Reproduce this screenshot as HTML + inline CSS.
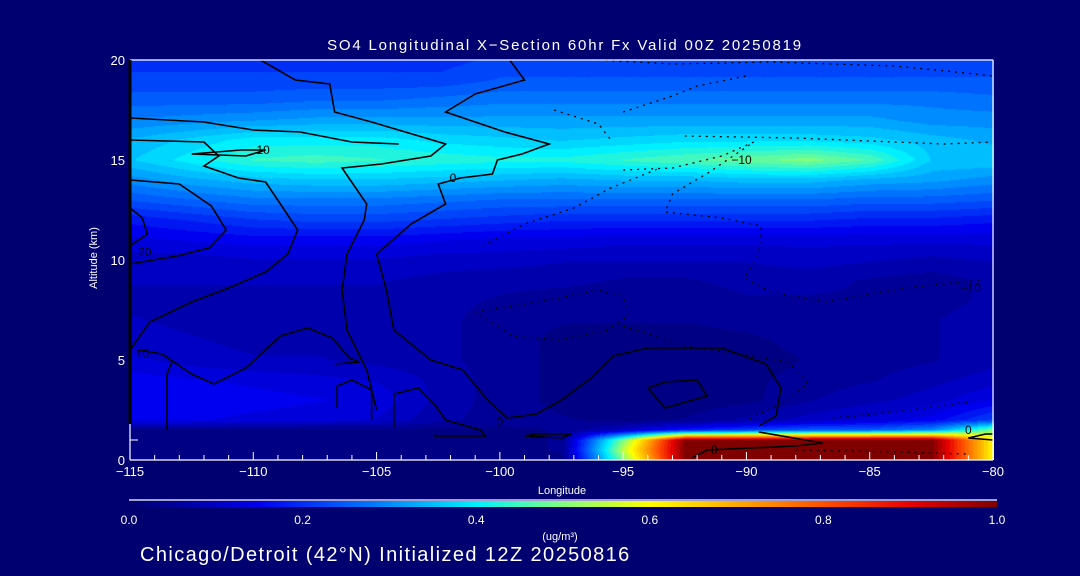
<!DOCTYPE html>
<html><head><meta charset="utf-8"><style>
html,body{margin:0;padding:0;background:#000070;width:1080px;height:576px;overflow:hidden}
#wrap{position:relative;width:1080px;height:576px;font-family:"Liberation Sans",sans-serif;color:#fff}
canvas{position:absolute;left:130px;top:60px}
svg{position:absolute;left:0;top:0}
</style></head><body>
<div id="wrap">
<canvas id="cv" width="864" height="400"></canvas>
<svg id="sv" width="1080" height="576"></svg>
</div>
<script>
const lons=[-115,-112.5,-110,-107.5,-105,-102.5,-100,-97.5,-95,-92.5,-90,-87.5,-85,-82.5,-80];
const alts=[0,0.5,1,1.5,2,3,4,5,6,7,8,9,10,11,12,13,14,15,16,17,18,19,20];
const so4=[
[.02,.02,.02,.02,.02,.02,.02,.03,.50,1,1,1,1,1,.6],
[.02,.02,.02,.02,.02,.02,.03,.04,.55,1,1,1,1,1,.6],
[.02,.02,.02,.02,.02,.02,.03,.04,.50,1,1,1,1,1,.6],
[.03,.03,.03,.03,.03,.03,.03,.04,.10,.18,.22,.25,.25,.30,.5],
[.14,.14,.13,.12,.11,.07,.05,.04,.03,.04,.07,.10,.12,.15,.22],
[.16,.16,.15,.14,.13,.08,.05,.03,.02,.02,.03,.06,.08,.10,.14],
[.15,.14,.13,.12,.11,.08,.05,.03,.02,.02,.03,.05,.06,.08,.10],
[.12,.10,.09,.09,.08,.07,.05,.03,.02,.02,.02,.04,.05,.06,.08],
[.10,.09,.08,.08,.08,.07,.05,.03,.02,.02,.03,.05,.05,.06,.08],
[.09,.08,.08,.08,.08,.07,.05,.04,.04,.04,.05,.06,.06,.06,.08],
[.08,.08,.08,.08,.08,.07,.06,.05,.05,.05,.06,.06,.06,.05,.07],
[.09,.09,.09,.09,.09,.08,.07,.07,.06,.06,.07,.07,.06,.05,.07],
[.10,.10,.11,.11,.11,.10,.10,.09,.09,.09,.09,.10,.09,.08,.09],
[.13,.14,.15,.15,.15,.14,.13,.13,.12,.12,.12,.12,.12,.12,.12],
[.17,.19,.21,.22,.22,.21,.20,.19,.19,.19,.19,.19,.18,.18,.17],
[.24,.26,.28,.28,.28,.27,.26,.26,.26,.26,.26,.26,.25,.25,.24],
[.30,.33,.35,.36,.36,.35,.34,.33,.34,.34,.35,.35,.33,.32,.30],
[.36,.40,.44,.45,.44,.43,.42,.42,.44,.46,.48,.50,.46,.36,.36],
[.34,.37,.40,.40,.40,.38,.37,.36,.37,.38,.38,.38,.37,.35,.33],
[.29,.30,.31,.32,.32,.32,.32,.32,.32,.32,.32,.32,.32,.30,.30],
[.25,.25,.25,.26,.26,.27,.28,.28,.28,.28,.28,.28,.28,.28,.27],
[.22,.22,.22,.22,.22,.22,.24,.24,.24,.24,.24,.24,.24,.24,.24],
[.20,.20,.20,.20,.20,.20,.22,.22,.22,.22,.22,.22,.22,.22,.22]];
const xTicks=[-115,-110,-105,-100,-95,-90,-85,-80];
const yTicks=[0,5,10,15,20];
const cbTicks=[0,0.2,0.4,0.6,0.8,1.0];
const solidLines=[
[[-109.7,20],[-108.3,19],[-106.9,18.8],[-106.7,17.4],[-105.2,16.9],[-102.2,15.8],[-102.8,15.2],[-104.8,14.8],[-106.4,14.6],[-105.4,12.8],[-105.5,12],[-106.2,10.3],[-106.4,8.5],[-106.2,6.5],[-105.4,4.5],[-105,2.5]],
[[-99.6,20],[-99,19],[-101,18.3],[-102.2,17.4],[-99.8,16.4],[-98,15.8],[-99.1,15.3],[-100.1,15],[-100.3,14.3],[-101.6,14.1],[-102.5,13.8],[-102.2,12.8],[-103.6,11.8],[-105,10.3],[-104.6,8.5],[-104.3,6.5],[-102.8,5],[-101.5,4.5],[-100.5,3],[-99.7,2.1],[-98.5,2.3],[-97.5,3],[-96.3,4.1],[-95.4,5.2],[-94,5.6],[-91,5.6],[-89.2,4.8],[-88.6,3.6],[-88.8,2.2],[-89.5,1.7]],
[[-115,17.1],[-112,16.9],[-110,16.5],[-108.1,16.4],[-106,15.9],[-104.1,15.8]],
[[-115,16],[-112,15.9],[-111.4,15.2],[-112,14.7],[-110.6,14.1],[-109.5,13.9],[-108.9,12.8],[-108.2,11.5],[-108.6,10.3],[-109.5,9.4],[-111,8.6],[-112.5,7.9],[-114.2,6.9],[-115,5.5]],
[[-115,14],[-113,13.8],[-111.7,12.7],[-111.1,11.5],[-111.8,10.6],[-113.1,10.2],[-115,9.8]],
[[-115,12.6],[-114.5,12.1],[-114.3,11.3],[-115,10.7]],
[[-112.5,15.3],[-110.5,15.5],[-109.5,15.5],[-110.3,15.2],[-112.5,15.3]],
[[-114.6,5.5],[-113.7,5.3],[-112.5,4.3],[-111.6,3.8],[-110.3,4.6],[-108.9,6.2],[-107.8,6.6],[-106.8,6.1],[-106.1,5.1],[-105.7,4.9],[-106.7,4.8]],
[[-113.5,1.5],[-113.5,4.3],[-113.3,4.9]],
[[-106.6,2.6],[-106.6,3.7],[-106,4],[-105.2,3.5],[-105.2,2]],
[[-104.3,1.6],[-104.3,3.3],[-103.3,3.6],[-102.6,2.7],[-102.2,2],[-100.8,1.5],[-100.6,1.2],[-102.7,1.2]],
[[-99,1.2],[-97.5,1.1],[-97.1,1.3],[-98.5,1.3],[-99,1.2]],
[[-94,3.6],[-93.3,3.9],[-92,4],[-91.6,3.2],[-93.3,2.6],[-94,3.6]],
[[-92.2,0.1],[-91.6,0.5],[-88,0.7],[-86.9,0.85],[-89.5,1.4]],
[[-81,1.1],[-80.3,1.3],[-80,1.3]],[[-81,1.1],[-80,1.0]]];
const dottedLines=[
[[-97.8,17.5],[-96,16.8],[-95.5,16]],
[[-96,20],[-93,19.8],[-89,19.9],[-84,19.7],[-81.5,19.4],[-80,19.2]],
[[-95,17.4],[-93,18.2],[-92,18.7],[-90,19.2]],
[[-92.5,16.2],[-88,16.1],[-82,15.8],[-80,15.9]],
[[-95,14.5],[-93,14.6],[-91,15.2],[-89.7,15.9],[-91.5,14.4],[-93,13.3],[-93.3,12.4],[-91,12.1],[-89.4,11.7],[-89.5,10.3],[-90.1,9.1],[-89,8.4],[-86.8,7.9],[-83.6,8.6],[-80.5,9]],
[[-100.7,10.7],[-99,11.8],[-97,12.6],[-95.5,13.6],[-93.5,14.6]],
[[-101,7.4],[-98,8],[-96,8.5],[-95,8.2],[-94.8,7.2],[-95.6,6.5],[-97.6,6],[-99.5,6.2],[-101,7.4]],
[[-95,6.7],[-92.5,5.7],[-90.8,5.4],[-88.3,4.9],[-87.5,3.8],[-88.6,2.8],[-90,2]],
[[-86.5,2.1],[-84,2.4],[-81,2.9]],
[[-88,0.5],[-84,0.4],[-81,0.3]]];
const labels=[[-109.6,15.5,'10'],[-101.9,14.1,'0'],[-90.2,15,'-10'],[-80.9,8.6,'-10'],[-114.4,10.4,'20'],[-114.5,5.3,'10'],[-100,1.9,'0'],[-81,1.5,'0'],[-91.3,0.5,'0']];

const X0=130,X1=993,Y0=460,Y1=60;
const sx=l=>X0+(l+115)/35*(X1-X0);
const sy=a=>Y0+(Y1-Y0)*a/20;
const stops=[[0,[0,0,112]],[0.06,[0,0,160]],[0.15,[0,0,240]],[0.28,[0,120,255]],[0.4,[0,240,255]],[0.5,[128,255,128]],[0.6,[255,255,0]],[0.7,[255,170,0]],[0.8,[255,80,0]],[0.9,[230,0,0]],[1,[128,0,0]]];
function cmap(v){v=Math.max(0,Math.min(1,Math.round(v*40)/40));
for(let i=1;i<stops.length;i++){if(v<=stops[i][0]){const a=stops[i-1],b=stops[i],t=(v-a[0])/(b[0]-a[0]);return a[1].map((c,k)=>Math.round(c+(b[1][k]-c)*t));}}return stops[stops.length-1][1];}
function idx(arr,v){for(let i=0;i<arr.length-1;i++){if(v<=arr[i+1])return [i,(v-arr[i])/(arr[i+1]-arr[i])];}return [arr.length-2,1];}
const cv=document.getElementById('cv'),ctx=cv.getContext('2d');
const W=cv.width,H=cv.height,img=ctx.createImageData(W,H);
for(let py=0;py<H;py++){const a=20-(py+0.5)/H*20;const [j,ty]=idx(alts,a);
for(let px=0;px<W;px++){const l=-115+(px+0.5)/W*35;const [i,tx]=idx(lons,l);
const v=(so4[j][i]*(1-tx)+so4[j][i+1]*tx)*(1-ty)+(so4[j+1][i]*(1-tx)+so4[j+1][i+1]*tx)*ty;
const c=cmap(v),o=(py*W+px)*4;img.data[o]=c[0];img.data[o+1]=c[1];img.data[o+2]=c[2];img.data[o+3]=255;}}
ctx.putImageData(img,0,0);

const NS='http://www.w3.org/2000/svg',sv=document.getElementById('sv');
function mk(t,at,txt){const e=document.createElementNS(NS,t);for(const k in at)e.setAttribute(k,at[k]);if(txt!==undefined)e.textContent=txt;sv.appendChild(e);return e;}
solidLines.forEach(L=>{const e=mk('polyline',{points:L.map(p=>sx(p[0])+','+sy(p[1])).join(' '),fill:'none',stroke:'#000',"stroke-width":1.6});

});
dottedLines.forEach(L=>{const e=mk('polyline',{points:L.map(p=>sx(p[0])+','+sy(p[1])).join(' '),fill:'none',stroke:'#000',"stroke-width":1.3,"stroke-dasharray":'2 5'});

});
labels.forEach(L=>{const e=mk('text',{x:sx(L[0]),y:sy(L[1])+4,fill:'#000',"font-size":12,"text-anchor":'middle',"font-family":'Liberation Sans, sans-serif'},L[2].replace('-','\u2212'));

});
let e;
e=mk('line',{x1:X0,y1:Y1,x2:X1,y2:Y1,stroke:'#fff',"stroke-width":1.2});
e=mk('line',{x1:X1,y1:Y1,x2:X1,y2:Y0,stroke:'#fff',"stroke-width":1.2});
e=mk('line',{x1:X0,y1:Y0,x2:X1,y2:Y0,stroke:'#fff',"stroke-width":1.2});
e=mk('line',{x1:X0,y1:Y0,x2:X0,y2:Y1,stroke:'#fff',"stroke-width":1.2});
e=mk('line',{x1:X0,y1:Y1,x2:X0,y2:sy(1.8),stroke:'#000',"stroke-width":3});
for(let l=-115;l<=-80;l++){const maj=xTicks.includes(l);e=mk('line',{x1:sx(l),y1:Y0,x2:sx(l),y2:Y0-(maj?8:5),stroke:'#fff',"stroke-width":1});}
xTicks.forEach(l=>{e=mk('text',{x:sx(l),y:476,fill:'#fff',"font-size":13,"text-anchor":'middle'},String(l).replace('-','\u2212'));});
yTicks.forEach(a=>{e=mk('text',{x:125,y:sy(a)+5,fill:'#fff',"font-size":13,"text-anchor":'end'},String(a));});
e=mk('line',{x1:X0,y1:sy(1),x2:X0+8,y2:sy(1),stroke:'#fff'});
e=mk('text',{x:565,y:50,fill:'#fff',"font-size":15,"text-anchor":'middle',"letter-spacing":'1.8'},'SO4 Longitudinal X\u2212Section 60hr  Fx Valid 00Z 20250819');
e=mk('text',{x:562,y:494,fill:'#fff',"font-size":11,"text-anchor":'middle'},'Longitude');
e=mk('text',{x:97,y:258,fill:'#fff',"font-size":11,"text-anchor":'middle',transform:'rotate(-90 97 258)'},'Altitude (km)');
const CB0=129,CB1=997;
const grad=mk('defs',{});const lg=document.createElementNS(NS,'linearGradient');lg.setAttribute('id','cbg');grad.appendChild(lg);
stops.forEach(s=>{const st=document.createElementNS(NS,'stop');st.setAttribute('offset',s[0]);st.setAttribute('stop-color','rgb('+s[1].join(',')+')');lg.appendChild(st);});
e=mk('line',{x1:CB0,y1:500,x2:CB1,y2:500,stroke:'#fff',"stroke-width":1.2});
e=mk('rect',{x:CB0,y:501,width:CB1-CB0,height:6,fill:'url(#cbg)'});
cbTicks.forEach(v=>{e=mk('text',{x:CB0+v*(CB1-CB0),y:524,fill:'#fff',"font-size":12,"text-anchor":'middle'},v.toFixed(1));});
e=mk('text',{x:560,y:540,fill:'#fff',"font-size":11,"text-anchor":'middle'},'(ug/m\u00b3)');
e=mk('text',{x:140,y:561,fill:'#fff',"font-size":20,"letter-spacing":'1.4'},'Chicago/Detroit (42\u00b0N) Initialized 12Z 20250816');
</script>
</body></html>
